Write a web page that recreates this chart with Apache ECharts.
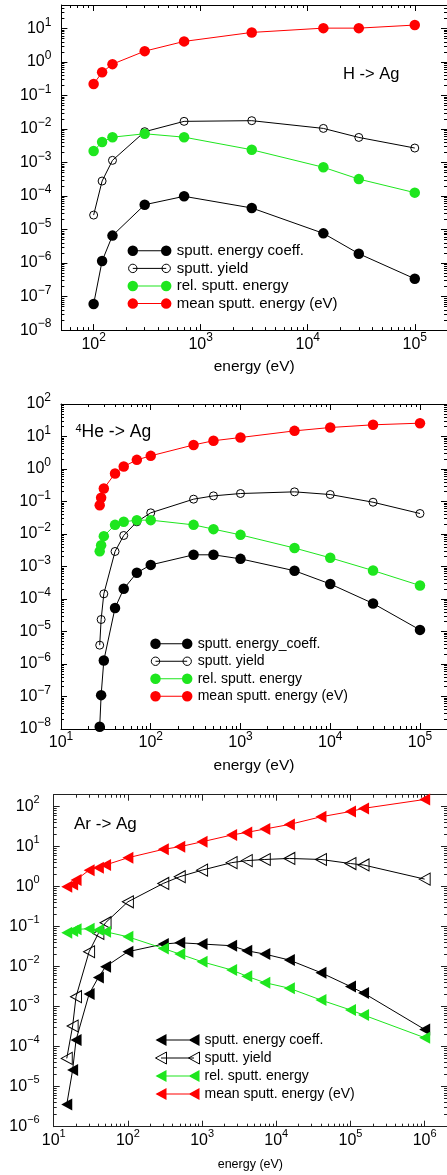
<!DOCTYPE html>
<html>
<head>
<meta charset="utf-8">
<script src="https://cdn.jsdelivr.net/npm/echarts@6/dist/echarts.min.js"></script>
<style>
  html, body { margin: 0; padding: 0; background: #fff; }
  #chart { width: 447px; height: 1175px; }
</style>
</head>
<body>
<div id="chart"></div>
<script>
// ---------- H -> Ag ----------
const hEnergy = [100, 120, 150, 300, 700, 3000, 14000, 30000, 100000];
const hCoeff  = [6.0e-8, 1.15e-6, 6.6e-6, 5.5e-5, 9.8e-5, 4.4e-5, 7.7e-6, 1.9e-6, 3.4e-7];
const hYield  = [2.7e-5, 2.8e-4, 1.16e-3, 8.3e-3, 0.0169, 0.0177, 0.0104, 5.6e-3, 2.7e-3];
const hRel    = [2.2e-3, 4.1e-3, 5.7e-3, 7.2e-3, 5.7e-3, 2.4e-3, 7.2e-4, 3.2e-4, 1.26e-4];
const hMean   = [0.22, 0.49, 0.86, 2.1, 4.1, 7.6, 10.2, 10.2, 12.6];

// ---------- 4He -> Ag ----------
const heEnergy = [27, 28, 30, 40, 50, 70, 100, 300, 500, 1000, 4000, 10000, 30000, 100000];
const heCoeff  = [1.17e-8, 1.1e-7, 1.28e-6, 5.3e-5, 2.06e-4, 6.4e-4, 1.12e-3, 2.29e-3, 2.29e-3, 1.72e-3, 7.4e-4, 2.9e-4, 7.3e-5, 1.12e-5];
const heYield  = [3.8e-6, 2.34e-5, 1.44e-4, 2.9e-3, 9.0e-3, 0.0237, 0.0448, 0.118, 0.149, 0.176, 0.198, 0.164, 0.095, 0.0427];
const heRel    = [2.96e-3, 4.5e-3, 8.6e-3, 0.0191, 0.0237, 0.0267, 0.0267, 0.0191, 0.0141, 9.4e-3, 3.7e-3, 1.85e-3, 7.5e-4, 2.6e-4];
const heMean   = [0.077, 0.13, 0.25, 0.73, 1.19, 1.91, 2.54, 5.5, 7.4, 9.3, 14.9, 18.9, 22.9, 25.7];

// ---------- Ar -> Ag ----------
const arEnergy = [15, 18, 20, 30, 40, 50, 100, 300, 500, 1000, 2500, 4000, 7000, 15000, 40000, 100000, 150000, 1000000];
const arCoeff  = [3.6e-6, 2.6e-5, 1.47e-4, 2.07e-3, 5.4e-3, 0.010, 0.0237, 0.0369, 0.0398, 0.0369, 0.0335, 0.0251, 0.0207, 0.0147, 7.1e-3, 3.2e-3, 2.2e-3, 2.7e-4];
const arYield  = [5.1e-5, 3.3e-4, 1.78e-3, 0.0237, 0.068, 0.126, 0.42, 1.21, 1.78, 2.6, 4.0, 4.5, 4.8, 5.1, 4.8, 3.8, 3.5, 1.55];
const arRel    = [0.071, 0.078, 0.086, 0.089, 0.083, 0.075, 0.056, 0.0287, 0.0207, 0.0133, 8.3e-3, 5.8e-3, 4.0e-3, 2.9e-3, 1.47e-3, 8.3e-4, 6.2e-4, 1.68e-4];
const arMean   = [1.0, 1.14, 1.47, 2.6, 3.0, 3.5, 5.3, 8.6, 10, 13.3, 19.6, 22.8, 27.7, 36, 56, 76, 91, 152];

// ---------- axis decades (tick labels) ----------
const hXTicks  = [1e2, 1e3, 1e4, 1e5];
const hYTicks  = [1e-8, 1e-7, 1e-6, 1e-5, 1e-4, 1e-3, 1e-2, 1e-1, 1e0, 1e1];
const heXTicks = [1e1, 1e2, 1e3, 1e4, 1e5];
const heYTicks = [1e-8, 1e-7, 1e-6, 1e-5, 1e-4, 1e-3, 1e-2, 1e-1, 1e0, 1e1, 1e2];
const arXTicks = [1e1, 1e2, 1e3, 1e4, 1e5, 1e6];
const arYTicks = [1e-6, 1e-5, 1e-4, 1e-3, 1e-2, 1e-1, 1e0, 1e1, 1e2];

// ---------- legend labels ----------
const hNames  = ['sputt. energy coeff.', 'sputt. yield', 'rel. sputt. energy', 'mean sputt. energy (eV)'];
const heNames = ['sputt. energy_coeff.', 'sputt. yield', 'rel. sputt. energy', 'mean sputt. energy (eV)'];
const arNames = ['sputt. energy coeff.', 'sputt. yield', 'rel. sputt. energy', 'mean sputt. energy (eV)'];

const FONT = '"Liberation Sans", Arial, Helvetica, sans-serif';
const BLACK = '#000000';
const GREEN = '#1ee61e';
const RED = '#ff0000';

// log-spaced minor tick positions (2..9 x 10^n) strictly inside a range
function minorValues(min, max) {
  const out = [];
  const e0 = Math.floor(Math.log10(min));
  const e1 = Math.ceil(Math.log10(max));
  for (let e = e0; e <= e1; e++) {
    for (let m = 2; m <= 9; m++) {
      const v = Number((m + 'e' + e));
      if (v > min && v < max) out.push(v);
    }
  }
  return out;
}

function powLabel(v) {
  const e = Math.round(Math.log10(v));
  return '{b|10}{s|' + (e < 0 ? '\u2212' + (-e) : String(e)) + '}';
}

function powRich(base, sup) {
  return {
    b: { fontSize: base, lineHeight: 24, fontFamily: FONT, color: BLACK },
    s: { fontSize: sup, lineHeight: sup + 2, fontFamily: FONT, color: BLACK, verticalAlign: 'top' }
  };
}

// four axes per dimension: labelled main side, its minor ticks, mirrored side, its minor ticks
function logAxes(dim, gridIndex, range, majors, cfg) {
  const sides = dim === 'x' ? ['bottom', 'top'] : ['left', 'right'];
  const minors = minorValues(range[0], range[1]);
  const base = {
    type: 'log', logBase: 10, gridIndex: gridIndex,
    min: range[0], max: range[1],
    splitLine: { show: false }, minorTick: { show: false }, minorSplitLine: { show: false },
    silent: true
  };
  const line = { show: true, onZero: false, lineStyle: { color: cfg.axisColor, width: 1 } };
  const noLine = { show: false, onZero: false };
  const major = { show: true, inside: true, length: 6, customValues: majors, lineStyle: { color: cfg.axisColor, width: 1 } };
  const minor = { show: true, inside: true, length: 3, customValues: minors, lineStyle: { color: cfg.axisColor, width: 1 } };
  const main = Object.assign({}, base, {
    position: sides[0], axisLine: line, axisTick: major,
    axisLabel: {
      show: true, customValues: majors, margin: dim === 'x' ? cfg.xMargin : cfg.yMargin,
      formatter: powLabel, rich: powRich(cfg.labelSize, cfg.supSize)
    }
  });
  if (dim === 'x') {
    Object.assign(main, {
      name: 'energy (eV)', nameLocation: 'middle', nameGap: cfg.nameGap,
      nameTextStyle: { fontFamily: FONT, fontSize: cfg.nameSize, color: BLACK }
    });
  }
  return [
    main,
    Object.assign({}, base, { position: sides[0], axisLine: noLine, axisTick: minor, axisLabel: { show: false } }),
    Object.assign({}, base, { position: sides[1], axisLine: line, axisTick: major, axisLabel: { show: false } }),
    Object.assign({}, base, { position: sides[1], axisLine: noLine, axisTick: minor, axisLabel: { show: false } })
  ];
}

function lineSeries(name, xs, ys, axisIndex, color, mark) {
  return {
    type: 'line', name: name,
    xAxisIndex: axisIndex, yAxisIndex: axisIndex,
    data: xs.map((x, i) => [x, ys[i]]),
    symbol: mark.symbol, symbolSize: mark.size, symbolRotate: mark.rotate || 0,
    showAllSymbol: true, silent: true, clip: false,
    lineStyle: { color: color, width: 1 },
    itemStyle: mark.open
      ? { color: 'rgba(0,0,0,0)', borderColor: color, borderWidth: 1 }
      : { color: color, borderWidth: 0 },
    emphasis: { disabled: true }
  };
}

// legend icons: a line sample with a marker at each end.
// Filled markers carry a 1px filled bar; hollow ones an open stroked segment.
function sampleLine(x1, x2, c, open) {
  return open
    ? 'M' + x1 + ',' + c + 'H' + x2
    : 'M' + x1 + ',' + (c - 0.5) + 'H' + x2 + 'V' + (c + 0.5) + 'H' + x1 + 'Z';
}
function circleIcon(w, h, r, open) {
  const c = h / 2, x1 = c, x2 = w - c;
  const circ = (x) => 'M' + (x - r) + ',' + c + 'A' + r + ',' + r + ',0,1,1,' + (x + r) + ',' + c +
                      'A' + r + ',' + r + ',0,1,1,' + (x - r) + ',' + c + 'Z';
  return 'path://M0,0M' + w + ',' + h + circ(x1) + circ(x2) + sampleLine(x1, x2, c, open);
}
function triangleIcon(w, h, tw, open) {
  const c = h / 2;
  const tri = (x) => 'M' + x + ',' + c + 'L' + (x + tw) + ',0L' + (x + tw) + ',' + h + 'Z';
  return 'path://M0,0M' + w + ',' + h + tri(0) + tri(w - tw) + sampleLine(tw / 2, w - tw / 2, c, open);
}

function legendItems(names, icons) {
  const fills = [BLACK, 'rgba(0,0,0,0)', GREEN, RED];
  const strokes = [BLACK, BLACK, GREEN, RED];
  return names.map((n, i) => ({
    name: n, icon: icons[i],
    itemStyle: { color: fills[i], borderColor: strokes[i], borderWidth: i === 1 ? 1 : 0 }
  }));
}

const chart = echarts.init(document.getElementById('chart'), null, { renderer: 'canvas' });

const circleMarks = [
  { symbol: 'circle', size: 10.5 },
  { symbol: 'circle', size: 8, open: true },
  { symbol: 'circle', size: 10.5 },
  { symbol: 'circle', size: 10.5 }
];
const triMarks = [
  { symbol: 'triangle', size: [12, 11], rotate: 90 },
  { symbol: 'triangle', size: [12, 11], rotate: 90, open: true },
  { symbol: 'triangle', size: [12, 11], rotate: 90 },
  { symbol: 'triangle', size: [12, 11], rotate: 90 }
];
const colors = [BLACK, BLACK, GREEN, RED];

const cfg1 = { axisColor: BLACK, labelSize: 16, supSize: 12, xMargin: 2, yMargin: 10, nameGap: 29, nameSize: 15.5 };
const cfg2 = { axisColor: BLACK, labelSize: 16, supSize: 12, xMargin: 2, yMargin: 10, nameGap: 29, nameSize: 15.5 };
const cfg3 = { axisColor: '#222222', labelSize: 16, supSize: 11, xMargin: 2, yMargin: 14, nameGap: 31, nameSize: 12.5 };

const xAxes = [].concat(
  logAxes('x', 0, [50, 2e5], hXTicks, cfg1),
  logAxes('x', 1, [10, 2e5], heXTicks, cfg2),
  logAxes('x', 2, [10, 2e6], arXTicks, cfg3)
);
const yAxes = [].concat(
  logAxes('y', 0, [1e-8, 50], hYTicks, cfg1),
  logAxes('y', 1, [1e-8, 100], heYTicks, cfg2),
  logAxes('y', 2, [1e-6, 200], arYTicks, cfg3)
);

const series = [];
[hCoeff, hYield, hRel, hMean].forEach((ys, i) =>
  series.push(lineSeries(hNames[i], hEnergy, ys, 0, colors[i], circleMarks[i])));
[heCoeff, heYield, heRel, heMean].forEach((ys, i) =>
  series.push(lineSeries(heNames[i], heEnergy, ys, 4, colors[i], circleMarks[i])));
[arCoeff, arYield, arRel, arMean].forEach((ys, i) =>
  series.push(lineSeries(arNames[i], arEnergy, ys, 8, colors[i], triMarks[i])));

const legendBase = {
  orient: 'vertical', itemGap: 0, padding: 0, selectedMode: false,
  symbolKeepAspect: true
};
const cIcon1 = circleIcon(44.4, 11, 5.25, false), oIcon1 = circleIcon(44.4, 11, 4.2, true);
const cIcon2 = circleIcon(42.7, 11, 5.25, false), oIcon2 = circleIcon(42.7, 11, 4.2, true);
const tIcon = triangleIcon(44, 12, 11, false), oTIcon = triangleIcon(44, 12, 11, true);

const option = {
  animation: false,
  backgroundColor: '#ffffff',
  textStyle: { fontFamily: FONT },
  grid: [
    { left: 61.4, top: 5, width: 390.2, height: 325.1 },
    { left: 61, top: 404, width: 390, height: 325 },
    { left: 53.7, top: 794.7, width: 397.9, height: 332 }
  ],
  xAxis: xAxes,
  yAxis: yAxes,
  title: [
    { text: 'H -> Ag', left: 343, top: 66, padding: 0,
      textStyle: { fontFamily: FONT, fontSize: 16.5, fontWeight: 'normal', color: BLACK } },
    { text: '{s|4}He -> Ag', left: 75.5, top: 423, padding: 0,
      textStyle: { fontFamily: FONT, fontSize: 17.5, fontWeight: 'normal', color: BLACK,
        rich: { s: { fontFamily: FONT, fontSize: 11, color: BLACK, verticalAlign: 'top', lineHeight: 12 } } } },
    { text: 'Ar -> Ag', left: 74, top: 816, padding: 0,
      textStyle: { fontFamily: FONT, fontSize: 17, fontWeight: 'normal', color: BLACK } }
  ],
  legend: [
    Object.assign({}, legendBase, {
      left: 126.8, top: 242, itemWidth: 44.4, itemHeight: 11,
      textStyle: { fontFamily: FONT, fontSize: 15, color: BLACK, lineHeight: 17.6 },
      data: legendItems(hNames, [cIcon1, oIcon1, cIcon1, cIcon1])
    }),
    Object.assign({}, legendBase, {
      left: 149.5, top: 635, itemWidth: 42.7, itemHeight: 11,
      textStyle: { fontFamily: FONT, fontSize: 14, color: BLACK, lineHeight: 17.5 },
      data: legendItems(heNames, [cIcon2, oIcon2, cIcon2, cIcon2])
    }),
    Object.assign({}, legendBase, {
      left: 155, top: 1031, itemWidth: 44, itemHeight: 12,
      textStyle: { fontFamily: FONT, fontSize: 14, color: BLACK, lineHeight: 18 },
      data: legendItems(arNames, [tIcon, oTIcon, tIcon, tIcon])
    })
  ],
  series: series
};

chart.setOption(option);
</script>
</body>
</html>
